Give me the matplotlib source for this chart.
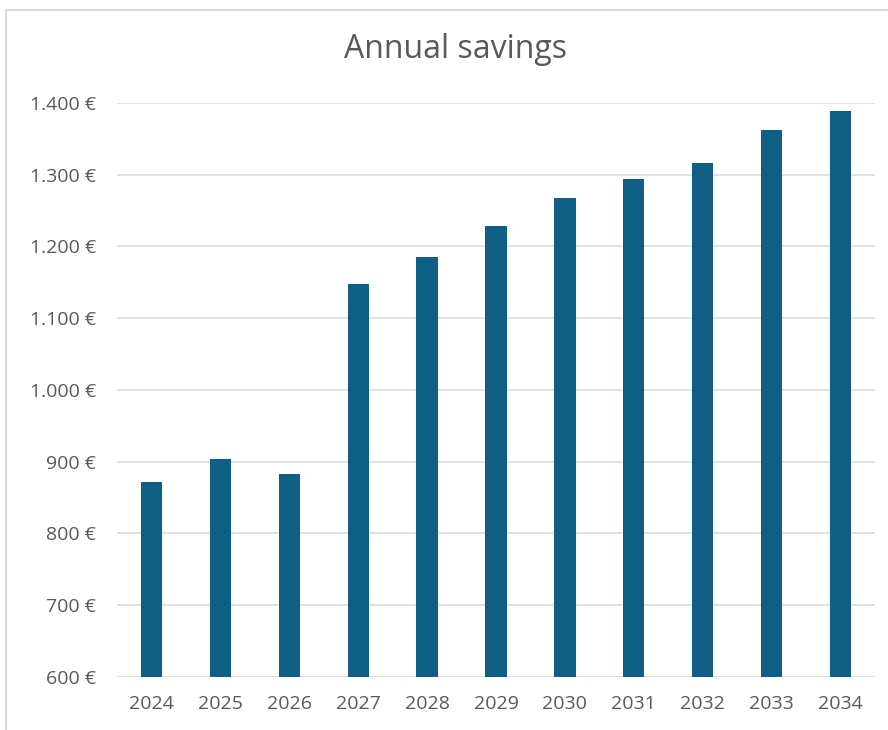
import matplotlib
matplotlib.use("Agg")
import matplotlib.pyplot as plt
from matplotlib.ticker import FuncFormatter, MultipleLocator
from matplotlib.lines import Line2D

years = ["2024", "2025", "2026", "2027", "2028", "2029", "2030", "2031", "2032", "2033", "2034"]
savings = [872, 904, 882, 1148, 1185, 1229, 1268, 1294, 1317, 1362, 1389]
title = "Annual savings"

plt.rcParams['font.family'] = ['Open Sans', 'DejaVu Sans']

W, H = 888, 730
fig = plt.figure(figsize=(W / 100, H / 100), dpi=100)
ax = fig.add_axes([117 / W, 1 - 676.7 / H, (875 - 117) / W, (676.7 - 103) / H])

bar_color = "#0E5F83"
text_color = "#595959"
grid_color = "#D9D9D9"

x = range(len(years))
ax.bar(x, savings, width=0.31, color=bar_color, zorder=3)
ax.set_xlim(-0.5, len(years) - 0.5)
ax.set_ylim(600, 1400)
ax.yaxis.set_major_locator(MultipleLocator(100))

def fmt(v, pos):
    s = f"{int(round(v)):,}".replace(",", ".")
    return s + " €"

ax.yaxis.set_major_formatter(FuncFormatter(fmt))
ax.set_xticks(list(x))
ax.set_xticklabels(years)
ax.grid(axis="y", color=grid_color, linewidth=1.1, zorder=0)
ax.set_axisbelow(True)
for s in ax.spines.values():
    s.set_visible(False)
ax.tick_params(axis="both", length=0, colors=text_color, labelsize=14)
ax.tick_params(axis="y", pad=15)
ax.tick_params(axis="x", pad=13)

fig.text(455 / W, 1 - 50 / H, title, ha="center", va="center",
         fontsize=23, color=text_color)

# chart frame (left and top edges visible)
fig.add_artist(Line2D([5.5 / W, 5.5 / W], [0, 1 - 10 / H], transform=fig.transFigure,
                      color="#D9D9D9", linewidth=1.5))
fig.add_artist(Line2D([5.5 / W, 1], [1 - 10 / H, 1 - 10 / H], transform=fig.transFigure,
                      color="#D9D9D9", linewidth=1.5))

fig.savefig("out.png", dpi=100, facecolor="white")
